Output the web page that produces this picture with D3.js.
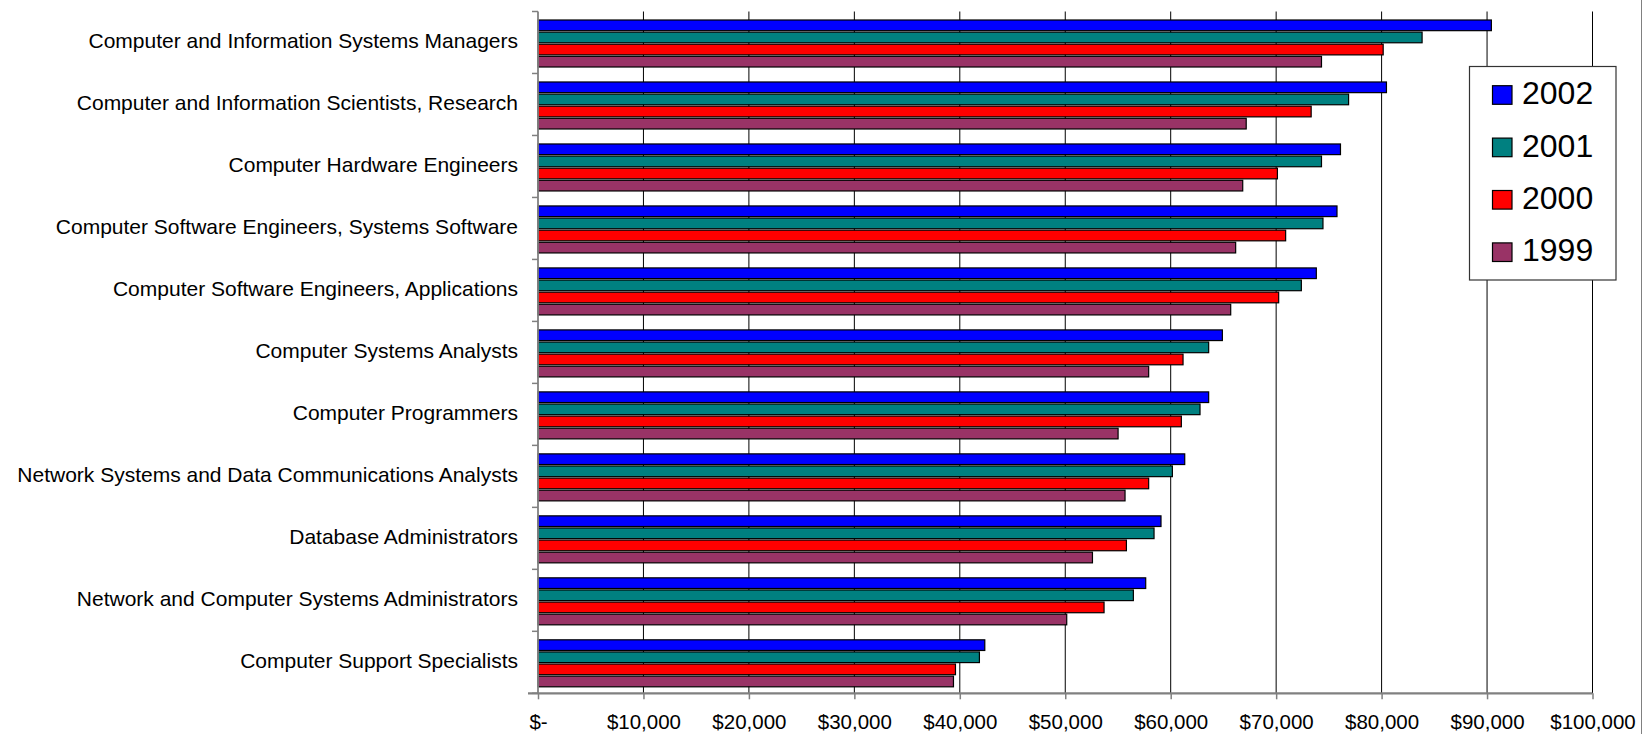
<!DOCTYPE html>
<html>
<head>
<meta charset="utf-8">
<script src="https://cdn.jsdelivr.net/npm/d3@7"></script>
<style>
  html, body { margin: 0; padding: 0; background: #fff; }
  svg { display: block; }
  text { font-family: "Liberation Sans", Arial, sans-serif; fill: #000; }
</style>
</head>
<body>
<svg id="chart" width="1644" height="734"></svg>
<script>
const categories = [
  "Computer and Information Systems Managers",
  "Computer and Information Scientists, Research",
  "Computer Hardware Engineers",
  "Computer Software Engineers, Systems Software",
  "Computer Software Engineers, Applications",
  "Computer Systems Analysts",
  "Computer Programmers",
  "Network Systems and Data Communications Analysts",
  "Database Administrators",
  "Network and Computer Systems Administrators",
  "Computer Support Specialists"
];
const years = ["2002", "2001", "2000", "1999"];
const values2002 = [90410, 80460, 76100, 75770, 73810, 64900, 63600, 61330, 59080, 57630, 42370];
const values2001 = [83840, 76870, 74300, 74440, 72390, 63600, 62780, 60160, 58420, 56460, 41860];
const values2000 = [80150, 73320, 70120, 70900, 70240, 61170, 61010, 57910, 55800, 53680, 39590];
const values1999 = [74300, 67160, 66830, 66160, 65690, 57910, 55010, 55670, 52580, 50140, 39400];
const tickValues = [0, 10000, 20000, 30000, 40000, 50000, 60000, 70000, 80000, 90000, 100000];
const tickLabels = ["$-", "$10,000", "$20,000", "$30,000", "$40,000", "$50,000", "$60,000", "$70,000", "$80,000", "$90,000", "$100,000"];
const colors = ["#0000FF", "#008080", "#FF0000", "#993366"];

const seriesValues = [values2002, values2001, values2000, values1999];

const svg = d3.select("#chart");
const pL = 538, pR = 1592.5, pT = 11.5, pB = 693.3;

const x = d3.scaleLinear().domain([0, 100000]).range([pL, pR]);
const y0 = d3.scaleBand().domain(categories).range([pT, pB]).padding(0);
const y1 = d3.scaleBand().domain(years).range([8.5, 55.5]).paddingInner(0.12);
const color = d3.scaleOrdinal().domain(years).range(colors);

// right border
svg.append("line")
  .attr("x1", 1641.5).attr("x2", 1641.5).attr("y1", 0).attr("y2", 734)
  .attr("stroke", "#808080").attr("stroke-width", 1);

// gridlines
svg.append("g").selectAll("line").data(tickValues.slice(1)).join("line")
  .attr("x1", d => x(d)).attr("x2", d => x(d))
  .attr("y1", pT).attr("y2", pB)
  .attr("stroke", "#000").attr("stroke-width", 1);

// bars
const rows = categories.map((c, i) => ({ cat: c, vals: years.map((yr, j) => ({ year: yr, value: seriesValues[j][i] })) }));
const groups = svg.append("g").selectAll("g").data(rows).join("g")
  .attr("transform", d => `translate(0,${y0(d.cat)})`);
groups.selectAll("rect").data(d => d.vals).join("rect")
  .attr("x", x(0))
  .attr("y", d => y1(d.year))
  .attr("width", d => x(d.value) - x(0))
  .attr("height", y1.bandwidth())
  .attr("fill", d => color(d.year))
  .attr("stroke", "#000")
  .attr("stroke-width", 1.2);

// x axis
const xAxis = d3.axisBottom(x).tickValues(tickValues)
  .tickFormat((d, i) => tickLabels[i]).tickSize(6).tickPadding(15.5);
const gx = svg.append("g").attr("transform", `translate(0,${pB})`).call(xAxis);
gx.select(".domain").attr("stroke", "#808080").attr("stroke-width", 2.2)
  .attr("d", `M${pL - 10},0H${pR}`);
gx.selectAll(".tick line").attr("stroke", "#808080").attr("stroke-width", 1.5);
gx.selectAll(".tick text").style("font-size", "20.5px")
  .style("font-family", "'Liberation Sans', Arial, sans-serif").attr("fill", "#000");

// y axis line + ticks at band boundaries
svg.append("line").attr("x1", pL).attr("x2", pL).attr("y1", pT).attr("y2", pB)
  .attr("stroke", "#808080").attr("stroke-width", 1.8);
const boundaries = categories.map(c => y0(c)).concat([pB]);
svg.append("g").selectAll("line").data(boundaries).join("line")
  .attr("x1", pL - 6).attr("x2", pL).attr("y1", d => d).attr("y2", d => d)
  .attr("stroke", "#808080").attr("stroke-width", 1.5);

// category labels
svg.append("g").selectAll("text").data(categories).join("text")
  .attr("x", 518)
  .attr("y", d => y0(d) + y0.bandwidth() / 2 - 2.3)
  .attr("text-anchor", "end")
  .attr("dominant-baseline", "central")
  .style("font-size", "21px")
  .text(d => d);

// legend
const lg = svg.append("g");
lg.append("rect").attr("x", 1469.5).attr("y", 66.5).attr("width", 146.5).attr("height", 213.5)
  .attr("fill", "#fff").attr("stroke", "#333").attr("stroke-width", 1.2);
const items = lg.selectAll("g").data(years).join("g")
  .attr("transform", (d, i) => `translate(0,${95 + i * 52.4})`);
items.append("rect").attr("x", 1492.5).attr("y", -9.3).attr("width", 19.5).attr("height", 18.6)
  .attr("fill", d => color(d)).attr("stroke", "#000").attr("stroke-width", 1.2);
items.append("text").attr("x", 1522).attr("y", -1.8)
  .attr("dominant-baseline", "central")
  .style("font-size", "32px")
  .text(d => d);
</script>
</body>
</html>
